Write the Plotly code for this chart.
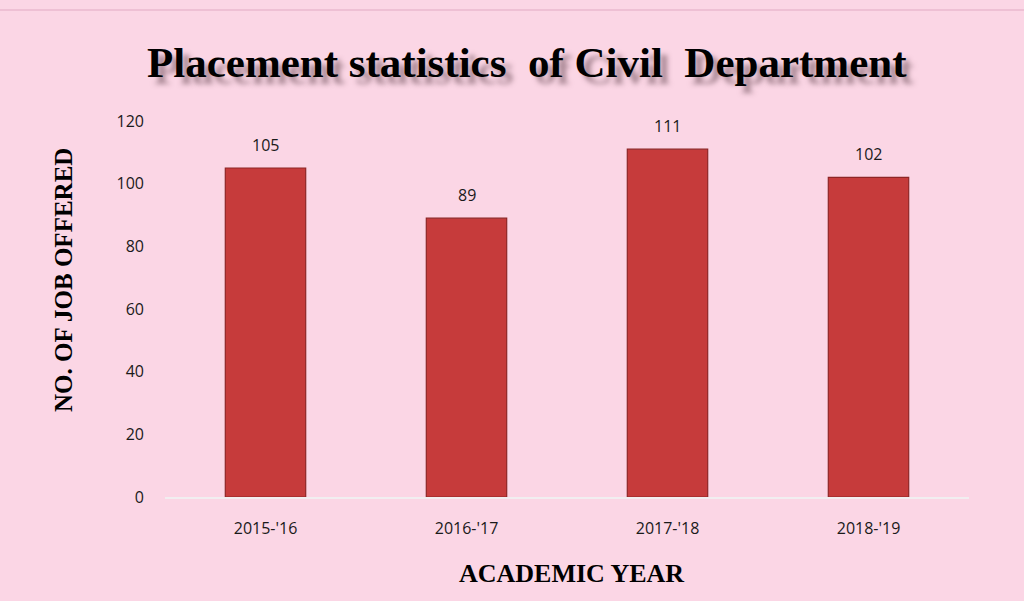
import plotly.graph_objects as go

years = ["2015-'16", "2016-'17", "2017-'18", "2018-'19"]
jobs = [105, 89, 111, 102]
y_ticks = [0, 20, 40, 60, 80, 100, 120]

W, H = 1024, 601
L, R, T, B = 165, 55, 121, 104

fig = go.Figure()
fig.add_trace(go.Bar(
    x=years, y=jobs,
    width=0.40,
    marker=dict(color="#c63b3b", line=dict(color="#8e2626", width=1.2)),
    hoverinfo="x+y",
))

for yr, v in zip(years, jobs):
    fig.add_annotation(
        x=yr, y=v, text=str(v), showarrow=False, yanchor="bottom", yshift=10,
        font=dict(family="Open Sans", size=16, color="#1a1a1a"),
    )

fig.update_layout(
    width=W, height=H,
    margin=dict(l=L, r=R, t=T, b=B),
    paper_bgcolor="#fbd6e5",
    plot_bgcolor="#fbd6e5",
    showlegend=False,
    xaxis=dict(
        showgrid=False, showline=True, linecolor="#f1eef0", linewidth=2,
        ticks="", tickfont=dict(family="Open Sans", size=16, color="#1a1a1a"),
        ticklabelstandoff=16,
    ),
    yaxis=dict(
        range=[0, 120], tickvals=y_ticks, showgrid=False, zeroline=False,
        showline=False, ticks="",
        tickfont=dict(family="Open Sans", size=16, color="#1a1a1a"),
        ticklabelstandoff=20,
    ),
)

fig.add_shape(type="line", xref="paper", yref="paper",
              x0=-L / (W - L - R), x1=1 + R / (W - L - R),
              y0=1 + (T - 10) / (H - T - B), y1=1 + (T - 10) / (H - T - B),
              line=dict(color="rgba(225,170,195,0.5)", width=2))

fig.add_annotation(
    text="<b>Placement statistics  of Civil  Department</b>",
    xref="paper", yref="paper", x=(527 - L) / (W - L - R), y=1 + (T - 63) / (H - T - B),
    xanchor="center", yanchor="middle", showarrow=False,
    font=dict(family="Liberation Serif", size=43, color="#000000",
              shadow="7px 7px 5px rgba(90,60,70,0.5)"),
)
fig.add_annotation(
    text="<b>NO. OF JOB OFFERED</b>",
    xref="paper", yref="paper", x=(63 - L) / (W - L - R), y=1 - (280 - T) / (H - T - B),
    xanchor="center", yanchor="middle", showarrow=False, textangle=-90,
    font=dict(family="Liberation Serif", size=25, color="#000000"),
)
fig.add_annotation(
    text="<b>ACADEMIC YEAR</b>",
    xref="paper", yref="paper", x=(571 - L) / (W - L - R), y=-(573 - (H - B)) / (H - T - B),
    xanchor="center", yanchor="middle", showarrow=False,
    font=dict(family="Liberation Serif", size=26, color="#000000"),
)

fig.write_html(
    "out.html",
    config={"displayModeBar": False},
    post_script="document.body.style.margin='0';document.body.style.background='#fbd6e5';",
)
